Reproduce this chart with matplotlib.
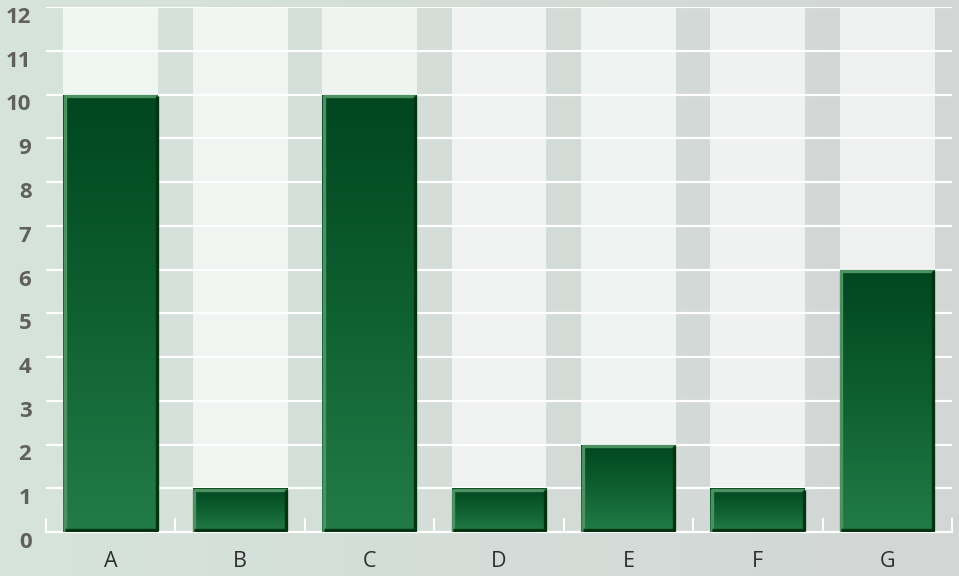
import numpy as np
import matplotlib
matplotlib.use("Agg")
import matplotlib.pyplot as plt
from matplotlib.patches import Rectangle
from matplotlib.colors import LinearSegmentedColormap

categories = ["A", "B", "C", "D", "E", "F", "G"]
values = [10, 1, 10, 1, 2, 1, 6]
y_ticks = list(range(0, 13))
y_max = 12

W, H, DPI = 959, 576, 100
fig = plt.figure(figsize=(W / DPI, H / DPI), dpi=DPI)

# backdrop: soft green on the left fading to grey on the right
bg = fig.add_axes([0, 0, 1, 1], zorder=-10)
bg.set_axis_off()
left_c = np.array([214, 228, 220]) / 255
right_c = np.array([210, 214, 213]) / 255
t = np.linspace(0, 1, 256)
grad = (left_c[None, :] * (1 - t[:, None]) + right_c[None, :] * t[:, None])[None, :, :]
bg.imshow(grad, aspect="auto", extent=[0, 1, 0, 1])
bg.set_xlim(0, 1)
bg.set_ylim(0, 1)

ax = fig.add_axes([46 / W, 1 - 532 / H, (952 - 46) / W, (532 - 7) / H])
ax.patch.set_alpha(0)
n = len(categories)
x = np.arange(n)
width = 0.733

# light tracks behind each bar
track_left = np.array([240, 246, 242]) / 255
track_right = np.array([239, 241, 240]) / 255
for i in range(n):
    f = i / (n - 1)
    col = track_left * (1 - f) + track_right * f
    ax.bar(x[i], y_max, width=width, color=col, zorder=1, linewidth=0)

# grid lines
for yv in y_ticks[1:]:
    ax.axhline(yv, color="white", lw=1.6, zorder=2)

# baseline with upward ticks at category boundaries
ax.axhline(0, color="white", lw=1.6, zorder=2, clip_on=False)
for b in np.arange(-0.5, n, 1.0):
    ax.plot([b, b], [0, 0.3], color="white", lw=1.4, zorder=2, clip_on=False)

# gradient-filled bars
cmap = LinearSegmentedColormap.from_list("g", ["#00461f", "#0f6031", "#227c47"])
gimg = np.linspace(0, 1, 256)[:, None]
for xi, v in zip(x, values):
    x0, x1 = xi - width / 2, xi + width / 2
    rect = Rectangle((x0, 0), width, v, facecolor="none", edgecolor="none", zorder=3)
    ax.add_patch(rect)
    im = ax.imshow(gimg, cmap=cmap, aspect="auto", extent=[x0, x1, 0, v],
                   origin="upper", zorder=3, interpolation="bilinear")
    im.set_clip_path(rect)
    dx = 0.012
    dy = 0.04
    ax.plot([x0 + dx, x0 + dx, x1 - dx], [0, v - dy, v - dy],
            color="#4d9160", lw=2.4, zorder=4, solid_capstyle="butt")
    ax.plot([x1 - dx, x1 - dx, x0 + dx], [v - dy, dy, dy],
            color="#03330f", lw=2.4, zorder=4, solid_capstyle="butt")

ax.set_xlim(-0.5, n - 0.5)
ax.set_ylim(0, y_max)

for s in ax.spines.values():
    s.set_visible(False)
ax.tick_params(length=0)
ax.set_yticks(y_ticks)
ax.set_yticklabels([str(v) for v in y_ticks], fontfamily="Open Sans",
                   fontweight="bold", fontsize=16, color="#606060")
for lab in ax.get_yticklabels():
    lab.set_verticalalignment("top")
ax.tick_params(axis="y", pad=10.5)
ax.set_xticks(x)
ax.set_xticklabels(categories, fontfamily="Open Sans", fontsize=15.5, color="#2f2f2f")
ax.tick_params(axis="x", pad=14)

fig.savefig("out.png", dpi=DPI)
